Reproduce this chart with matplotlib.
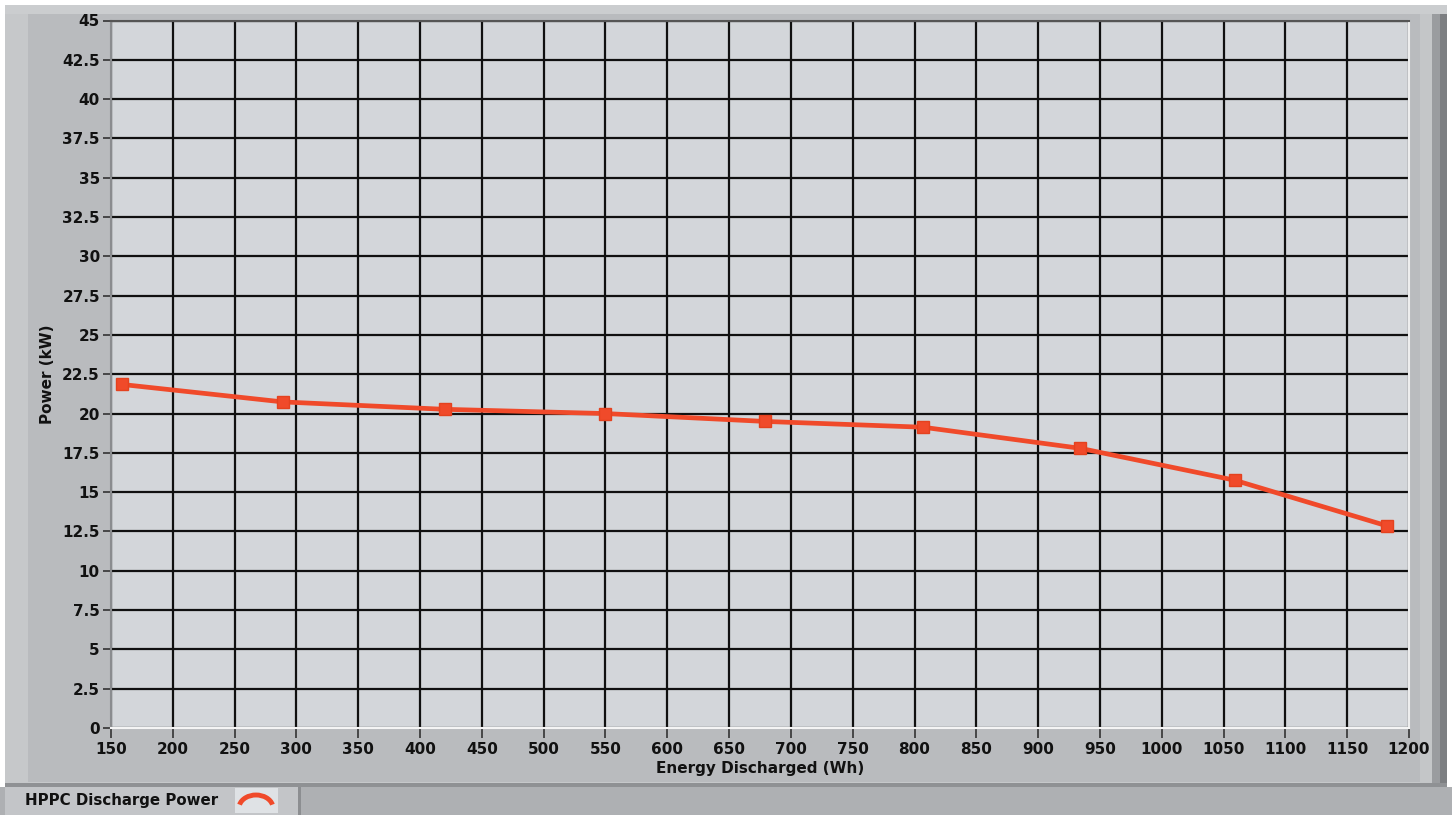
import matplotlib
matplotlib.use("Agg")
import matplotlib.pyplot as plt
from matplotlib.patches import Rectangle, Arc
import numpy as np

# Data
energy_wh = [159, 289, 420, 550, 679, 807, 934, 1059, 1182]
power_kw = [21.85, 20.74, 20.27, 20.0, 19.5, 19.13, 17.79, 15.76, 12.86]
x_ticks = list(range(150, 1201, 50))
y_ticks = [0, 2.5, 5, 7.5, 10, 12.5, 15, 17.5, 20, 22.5, 25, 27.5, 30, 32.5, 35, 37.5, 40, 42.5, 45]
y_ticklabels = ["0", "2.5", "5", "7.5", "10", "12.5", "15", "17.5", "20", "22.5", "25",
                "27.5", "30", "32.5", "35", "37.5", "40", "42.5", "45"]
series_name = "HPPC Discharge Power"

W, H = 1452, 815
fig = plt.figure(figsize=(W / 100, H / 100), dpi=100, facecolor="white")

def rect(x0, y0, x1, y1, color, z=-10):
    fig.patches.append(Rectangle((x0 / W, 1 - y1 / H), (x1 - x0) / W, (y1 - y0) / H,
                                 transform=fig.transFigure, facecolor=color,
                                 edgecolor="none", zorder=z))

# Panel background with bevels
rect(5, 5, 1447, 787, "#c6c8ca")
rect(28, 14, 1420, 782, "#b9bbbe")
rect(1420, 14, 1432, 787, "#c4c6c8")
rect(1432, 14, 1440, 787, "#9a9c9f")
rect(1440, 14, 1447, 787, "#7d7f82")
rect(5, 5, 1447, 14, "#cbcdcf")
rect(5, 783, 1447, 787, "#8f9194")
# Legend strip
rect(0, 787, 1452, 815, "#aeb0b3")
rect(5, 787, 300, 815, "#c3c5c8")
rect(298, 787, 301, 815, "#8c8e91")
rect(235, 788, 278, 813, "#dfe2e5")

ax = fig.add_axes([111 / W, 1 - 728 / H, 1298 / W, (728 - 20.5) / H])
ax.set_zorder(5)
ax.set_facecolor("#d3d6da")
ax.set_xlim(150, 1200)
ax.set_ylim(0, 45)
ax.set_xticks(x_ticks)
ax.set_yticks(y_ticks)
ax.set_yticklabels(y_ticklabels)
ax.grid(True, color="#101010", linewidth=1.6)
ax.set_axisbelow(True)

for lab in ax.get_xticklabels() + ax.get_yticklabels():
    lab.set_fontweight("bold")
    lab.set_fontsize(11)
    lab.set_color("#111111")
ax.tick_params(axis="y", direction="out", length=6, width=1.2, color="#333333", pad=2)
ax.tick_params(axis="x", direction="out", length=7, width=1.2, color="#333333", pad=3)

ax.spines["top"].set_color("#555555")
ax.spines["top"].set_linewidth(1.5)
ax.spines["left"].set_color("#8a8c8f")
ax.spines["left"].set_linewidth(1.5)
ax.spines["bottom"].set_color("#f4f4f4")
ax.spines["bottom"].set_linewidth(1.5)
ax.spines["right"].set_color("#eeeeee")
ax.spines["right"].set_linewidth(1.5)

ax.plot(energy_wh, power_kw, color="#f04a2a", linewidth=3.4, marker="s",
        markersize=8, markerfacecolor="#f04a2a", markeredgecolor="#e4421f", zorder=5)

ax.set_xlabel("Energy Discharged (Wh)", fontsize=11, fontweight="bold", color="#111111", labelpad=3)
ax.set_ylabel("Power (kW)", fontsize=11, fontweight="bold", color="#111111", labelpad=5)

# Legend text and icon
fig.text(25 / W, 1 - 801 / H, series_name, fontsize=10.8, fontweight="bold",
         color="#111111", va="center", ha="left")
arc = Arc((256 / W, 1 - 808 / H), 34 / W, 26 / H, theta1=20, theta2=160,
          transform=fig.transFigure, color="#f04a2a", linewidth=3.5, zorder=10)
fig.patches.append(arc)

fig.savefig("out.png", dpi=100, facecolor=fig.get_facecolor())
